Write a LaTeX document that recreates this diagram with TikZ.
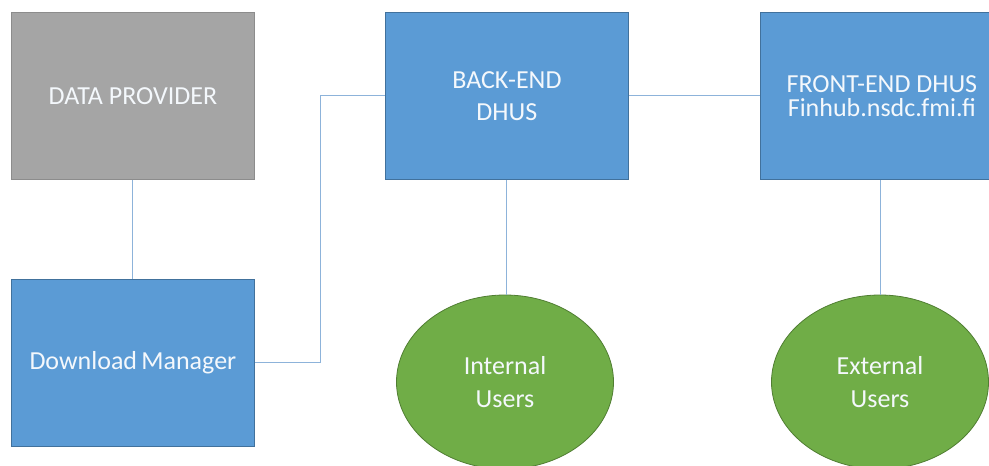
\documentclass[tikz,border=0pt]{standalone}
\usepackage{fontspec}
\setmainfont{Carlito}
\usetikzlibrary{shapes.geometric}
\definecolor{boxblue}{HTML}{5B9BD5}
\definecolor{boxblueline}{HTML}{41719C}
\definecolor{boxgray}{HTML}{A5A5A5}
\definecolor{boxgrayline}{HTML}{8C8C8C}
\definecolor{usergreen}{HTML}{70AD47}
\definecolor{usergreenline}{HTML}{507E32}
\definecolor{linkblue}{HTML}{8DB3DA}
\definecolor{offwhite}{HTML}{F4F8FC}
\tikzset{
  box/.style={rectangle, anchor=north west, minimum width=243pt, minimum height=167pt,
    inner sep=0pt, text=offwhite, align=center, line width=0.8pt},
  bluebox/.style={box, fill=boxblue, draw=boxblueline},
  graybox/.style={box, fill=boxgray, draw=boxgrayline},
  userell/.style={ellipse, minimum width=217pt, minimum height=174pt, inner sep=0pt,
    fill=usergreen, draw=usergreenline, line width=0.8pt, text=offwhite, align=center,
    font=\fontsize{26}{33}\selectfont},
  link/.style={draw=linkblue, line width=1pt}
}
\begin{document}
\begin{tikzpicture}[x=1pt,y=-1pt]
\useasboundingbox (0,0) rectangle (989,466);
\clip (0,0) rectangle (989,466);
\fill[white] (0,0) rectangle (989,466);
\node[graybox, font=\fontsize{26}{31}\selectfont] (dp) at (11,12) {DATA PROVIDER};
\node[bluebox, font=\fontsize{26}{31}\selectfont] (dm) at (11,279) {Download\,Manager};
\node[bluebox, font=\fontsize{26}{32}\selectfont] (be) at (385,12) {BACK-END\\DHUS};
\node[bluebox, font=\fontsize{26}{24}\selectfont] (fe) at (760,12) {FRONT-END DHUS\\Finhub.nsdc.fmi.fi};
\node[userell] (iu) at (505,382) {Internal\\Users};
\node[userell] (eu) at (880,382) {External\\Users};
\coordinate (bend) at (320,0);
\draw[link] (dp.south -| 132,0) -- (dm.north -| 132,0);
\draw[link] (dm.east |- 0,362) -| (bend |- be.west) -- (be.west);
\draw[link] (be.east |- 0,95) -- (fe.west |- 0,95);
\draw[link] (be.south -| 506,0) -- (iu.north -| 506,0);
\draw[link] (fe.south -| 880,0) -- (eu.north);
\end{tikzpicture}
\end{document}
